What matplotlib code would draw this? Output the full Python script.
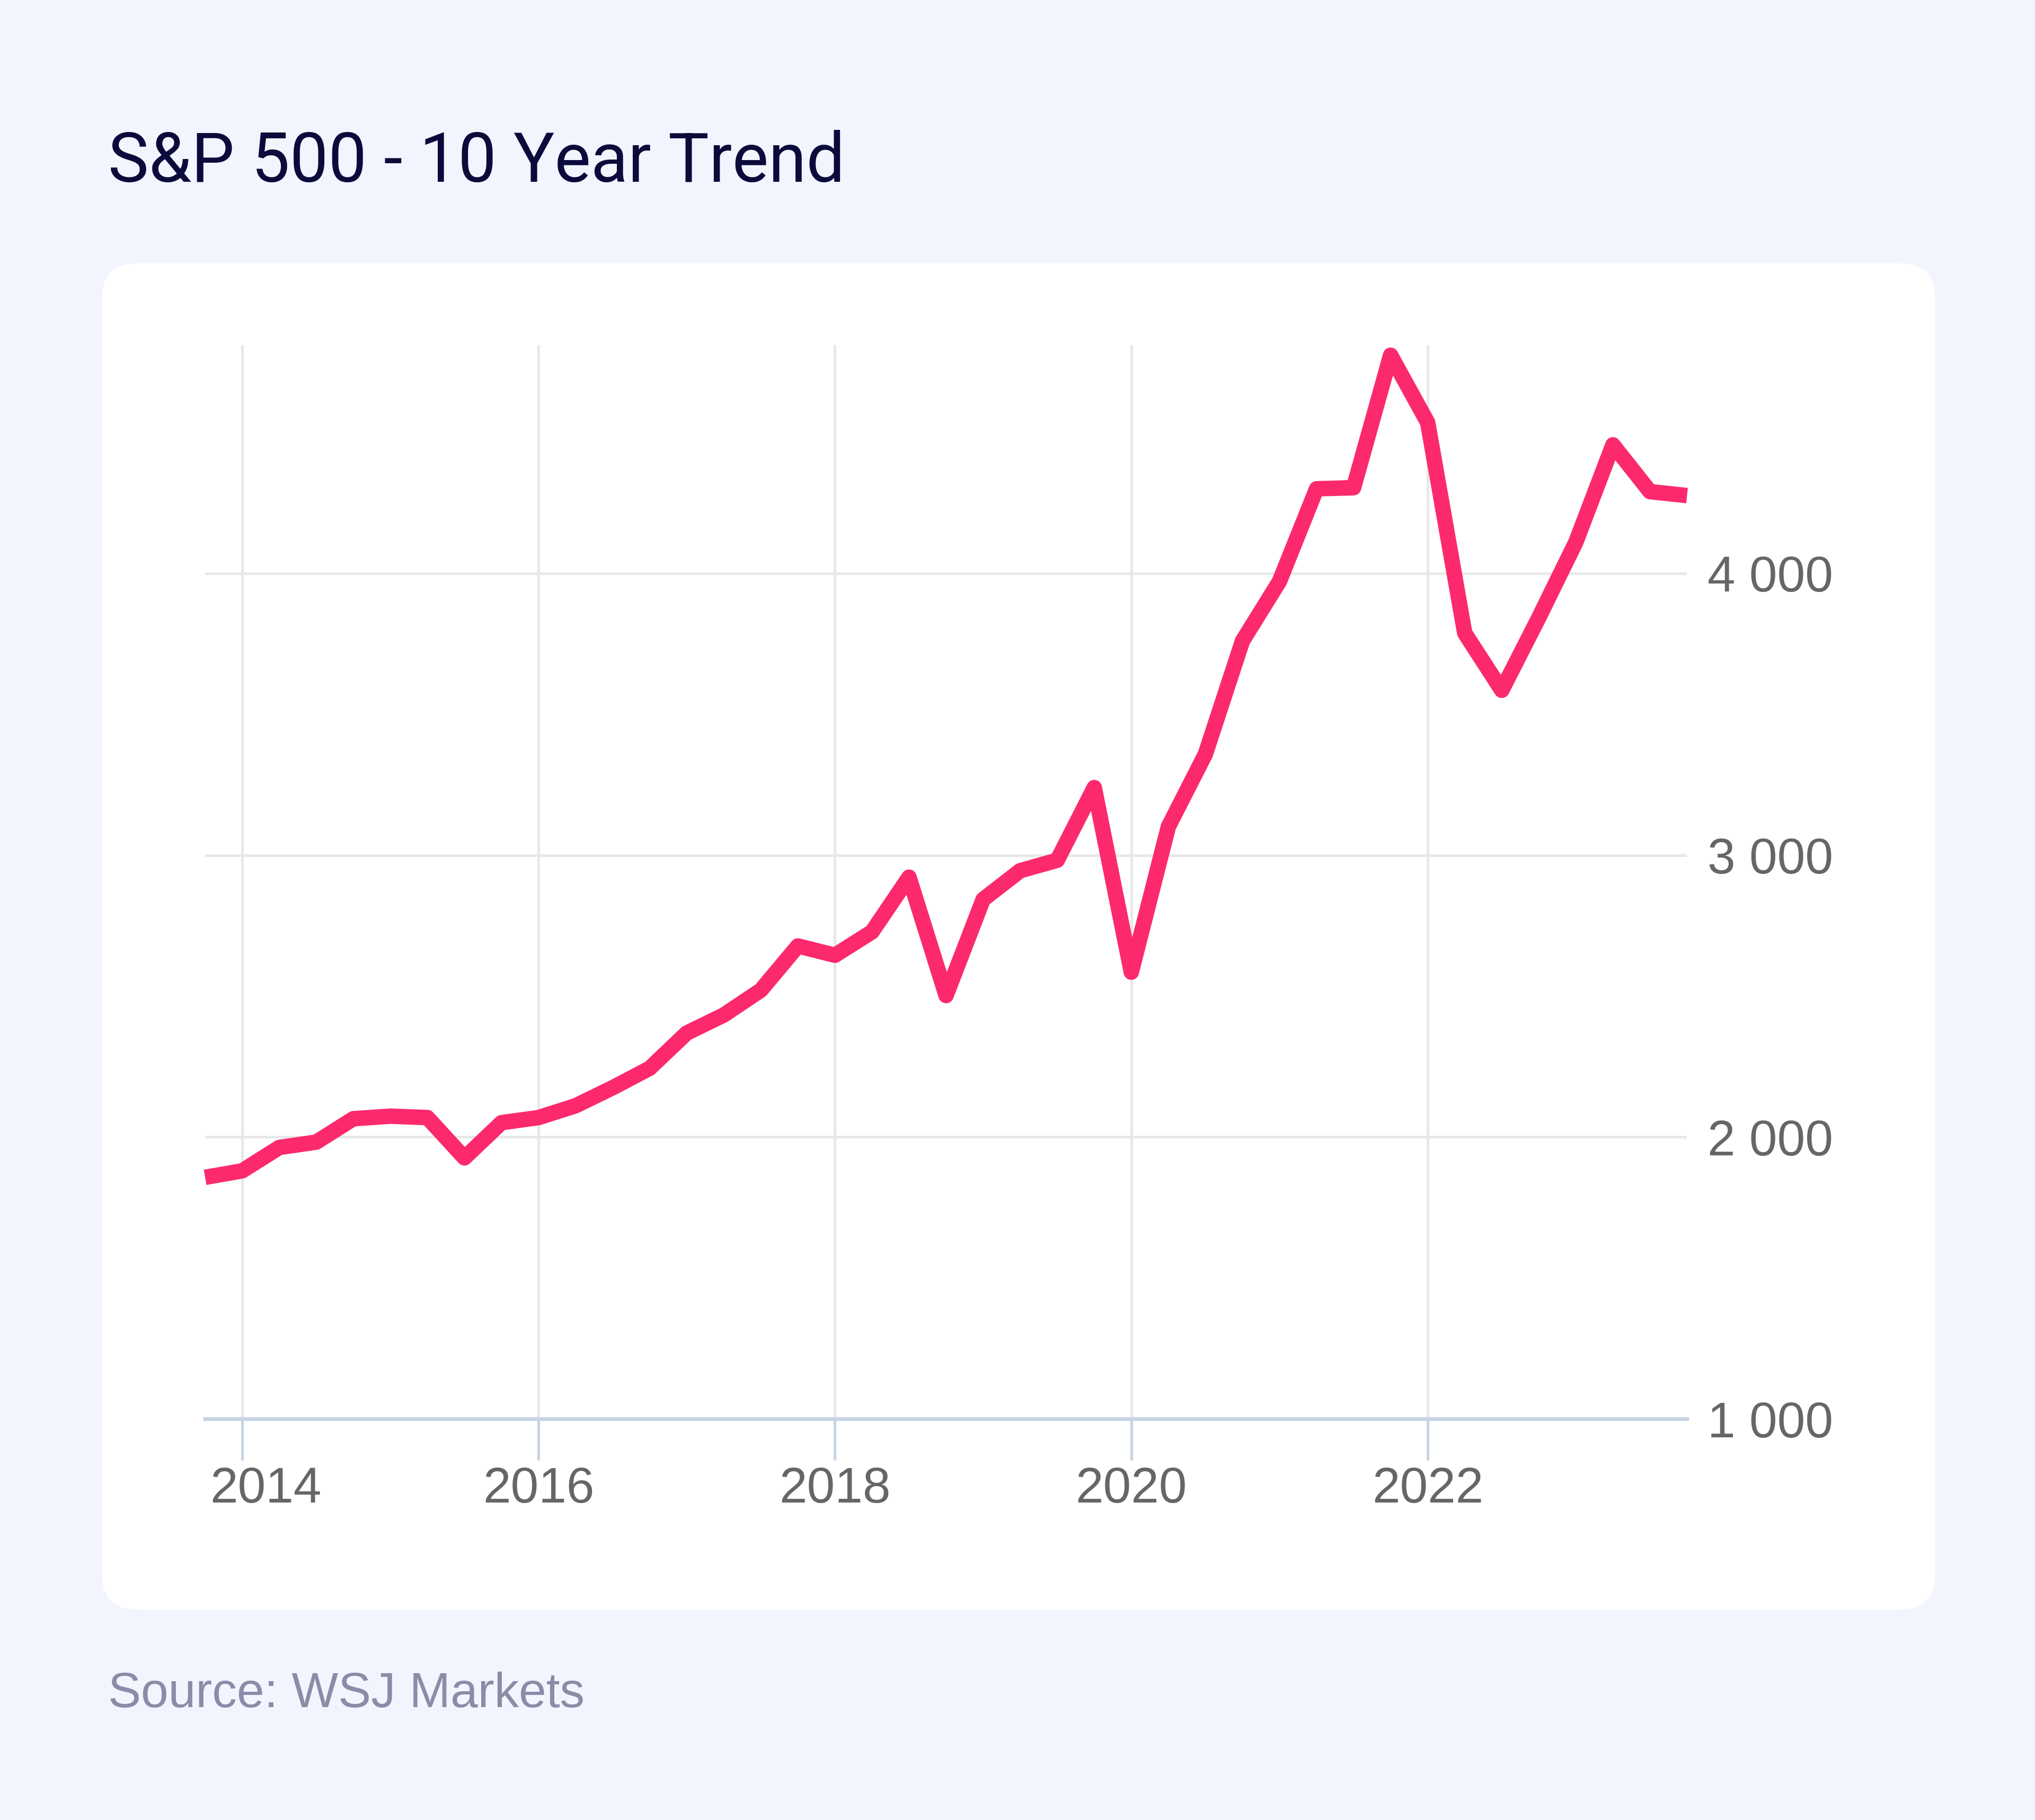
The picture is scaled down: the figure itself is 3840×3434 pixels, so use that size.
import matplotlib
matplotlib.use("Agg")
import matplotlib.pyplot as plt
from matplotlib.patches import FancyBboxPatch
from matplotlib.ticker import FuncFormatter
from matplotlib.transforms import ScaledTranslation

# quarterly closes, 2013 Q4 -> 2023 Q4
years = [2013.75 + 0.25 * i for i in range(41)]
values = [1857, 1880, 1963, 1982, 2065, 2074, 2069, 1926, 2051, 2069,
          2111, 2175, 2244, 2369, 2433, 2521, 2678, 2645, 2728, 2922,
          2502, 2843, 2945, 2982, 3240, 2585, 3101, 3359, 3760, 3972,
          4300, 4304, 4774, 4535, 3788, 3585, 3843, 4111, 4456, 4290, 4276]
x_ticks = [2014, 2016, 2018, 2020, 2022]
y_ticks = [1000, 2000, 3000, 4000]

bg = "#F2F5FD"
line_col = "#FC2A6D"

fig = plt.figure(figsize=(19.2, 17.17), dpi=200, facecolor=bg)

# white card behind the chart
card = FancyBboxPatch((0.0503, 0.1156), 0.9005, 0.7397,
                      boxstyle="round,pad=0,rounding_size=0.018",
                      transform=fig.transFigure, facecolor="white",
                      edgecolor="none", zorder=-5)
fig.patches.append(card)

fig.text(0.053, 0.900, "S&P 500 - 10 Year Trend", fontsize=46.5,
         family="Roboto", color="#0B0B3B", ha="left", va="baseline")
fig.text(0.053, 0.062, "Source: WSJ Markets", fontsize=33.5,
         family="Liberation Sans", color="#8A8CA8", ha="left", va="baseline")

ax = fig.add_axes([0.1008, 0.2204, 0.7282, 0.5900])
ax.set_facecolor("none")
ax.set_zorder(2)
ax.plot(years, values, color=line_col, lw=10.5, solid_joinstyle="round",
        solid_capstyle="butt", zorder=3, clip_on=False)

ax.set_xlim(2013.75, 2023.75)
ax.set_ylim(1000, 4810)
ax.set_xticks(x_ticks)
ax.set_yticks(y_ticks)
ax.yaxis.set_major_formatter(FuncFormatter(lambda v, p: f"{int(v):,}".replace(",", " ")))

for s in ["top", "left", "right"]:
    ax.spines[s].set_visible(False)
ax.spines["bottom"].set_color("#C8D3E3")
ax.spines["bottom"].set_linewidth(2.6)

ax.grid(True, color="#E8E8EA", lw=1.8)
ax.set_axisbelow(True)

ax.yaxis.tick_right()
ax.tick_params(axis="y", length=0, pad=14, labelsize=34, labelcolor="#666666")
ax.tick_params(axis="x", length=28, width=1.8, color="#C8D3E3", pad=4,
               labelsize=34, labelcolor="#666666")
for lab in ax.get_xticklabels() + ax.get_yticklabels():
    lab.set_family("Liberation Sans")

# first year label sits flush with the plot's left edge
first = ax.get_xticklabels()[0]
first.set_transform(first.get_transform() + ScaledTranslation(16 / 72, 0, fig.dpi_scale_trans))

fig.savefig("out.png", dpi=200, facecolor=bg)
